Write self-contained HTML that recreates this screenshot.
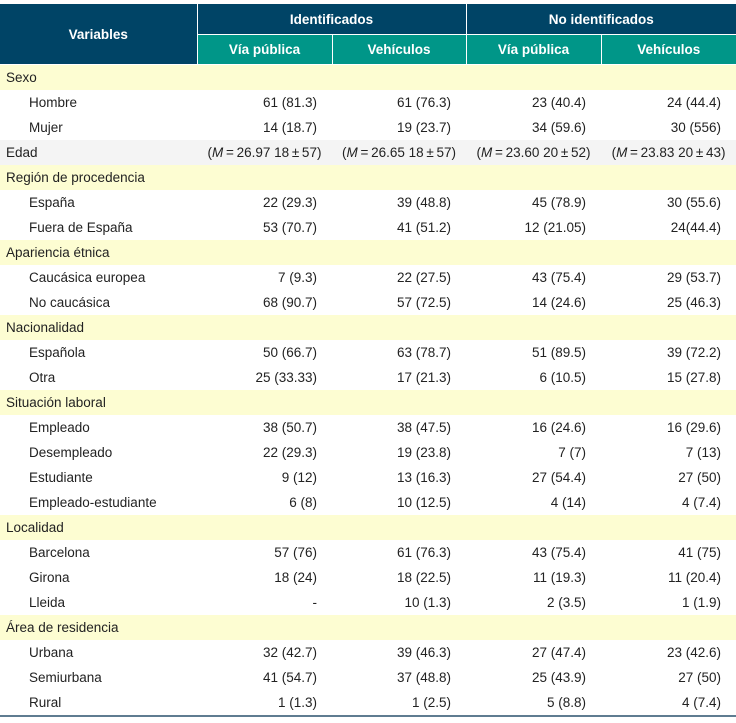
<!DOCTYPE html>
<html><head><meta charset="utf-8"><style>
body{margin:0;background:#fff;width:736px;height:723px;overflow:hidden;font-family:"Liberation Sans",sans-serif;font-size:13.5px;color:#222}
table{border-collapse:collapse;width:736px;table-layout:fixed;position:absolute;left:0;top:3px}
th{color:#fff;font-weight:bold;font-size:13.5px;padding:0;border:1px solid #fff}
th.n{background:#004466}
th.t{background:#009688}
td{height:25px;padding:0;line-height:25px;white-space:nowrap}
td.v{text-align:right;padding-right:15px}
td.c{text-align:center}
tr.y td{background:#fdfdd2}
tr.g td{background:#f4f4f4}
td.l{padding-left:6px}
td.s{padding-left:29px}
tr.last td{border-bottom:2px solid #5f7c91}
</style></head><body>
<table>
<colgroup><col style="width:197px"><col style="width:135px"><col style="width:134px"><col style="width:135px"><col style="width:135px"></colgroup>
<tr style="height:31px"><th class="n" rowspan="2" style="border-left:0">Variables</th><th class="n" colspan="2">Identificados</th><th class="n" colspan="2" style="border-right:0">No identificados</th></tr>
<tr style="height:30px"><th class="t">Vía pública</th><th class="t">Vehículos</th><th class="t">Vía pública</th><th class="t" style="border-right:0">Vehículos</th></tr>
<tr class="y"><td class="l" colspan="5">Sexo</td></tr>
<tr><td class="s">Hombre</td><td class="v">61 (81.3)</td><td class="v">61 (76.3)</td><td class="v">23 (40.4)</td><td class="v">24 (44.4)</td></tr>
<tr><td class="s">Mujer</td><td class="v">14 (18.7)</td><td class="v">19 (23.7)</td><td class="v">34 (59.6)</td><td class="v">30 (556)</td></tr>
<tr class="g"><td class="l">Edad</td><td class="c">(<i>M</i>&#8201;=&#8201;26.97 18&#8201;±&#8201;57)</td><td class="c">(<i>M</i>&#8201;=&#8201;26.65 18&#8201;±&#8201;57)</td><td class="c">(<i>M</i>&#8201;=&#8201;23.60 20&#8201;±&#8201;52)</td><td class="c">(<i>M</i>&#8201;=&#8201;23.83 20&#8201;±&#8201;43)</td></tr>
<tr class="y"><td class="l" colspan="5">Región de procedencia</td></tr>
<tr><td class="s">España</td><td class="v">22 (29.3)</td><td class="v">39 (48.8)</td><td class="v">45 (78.9)</td><td class="v">30 (55.6)</td></tr>
<tr><td class="s">Fuera de España</td><td class="v">53 (70.7)</td><td class="v">41 (51.2)</td><td class="v">12 (21.05)</td><td class="v">24(44.4)</td></tr>
<tr class="y"><td class="l" colspan="5">Apariencia étnica</td></tr>
<tr><td class="s">Caucásica europea</td><td class="v">7 (9.3)</td><td class="v">22 (27.5)</td><td class="v">43 (75.4)</td><td class="v">29 (53.7)</td></tr>
<tr><td class="s">No caucásica</td><td class="v">68 (90.7)</td><td class="v">57 (72.5)</td><td class="v">14 (24.6)</td><td class="v">25 (46.3)</td></tr>
<tr class="y"><td class="l" colspan="5">Nacionalidad</td></tr>
<tr><td class="s">Española</td><td class="v">50 (66.7)</td><td class="v">63 (78.7)</td><td class="v">51 (89.5)</td><td class="v">39 (72.2)</td></tr>
<tr><td class="s">Otra</td><td class="v">25 (33.33)</td><td class="v">17 (21.3)</td><td class="v">6 (10.5)</td><td class="v">15 (27.8)</td></tr>
<tr class="y"><td class="l" colspan="5">Situación laboral</td></tr>
<tr><td class="s">Empleado</td><td class="v">38 (50.7)</td><td class="v">38 (47.5)</td><td class="v">16 (24.6)</td><td class="v">16 (29.6)</td></tr>
<tr><td class="s">Desempleado</td><td class="v">22 (29.3)</td><td class="v">19 (23.8)</td><td class="v">7 (7)</td><td class="v">7 (13)</td></tr>
<tr><td class="s">Estudiante</td><td class="v">9 (12)</td><td class="v">13 (16.3)</td><td class="v">27 (54.4)</td><td class="v">27 (50)</td></tr>
<tr><td class="s">Empleado-estudiante</td><td class="v">6 (8)</td><td class="v">10 (12.5)</td><td class="v">4 (14)</td><td class="v">4 (7.4)</td></tr>
<tr class="y"><td class="l" colspan="5">Localidad</td></tr>
<tr><td class="s">Barcelona</td><td class="v">57 (76)</td><td class="v">61 (76.3)</td><td class="v">43 (75.4)</td><td class="v">41 (75)</td></tr>
<tr><td class="s">Girona</td><td class="v">18 (24)</td><td class="v">18 (22.5)</td><td class="v">11 (19.3)</td><td class="v">11 (20.4)</td></tr>
<tr><td class="s">Lleida</td><td class="v">-</td><td class="v">10 (1.3)</td><td class="v">2 (3.5)</td><td class="v">1 (1.9)</td></tr>
<tr class="y"><td class="l" colspan="5">Área de residencia</td></tr>
<tr><td class="s">Urbana</td><td class="v">32 (42.7)</td><td class="v">39 (46.3)</td><td class="v">27 (47.4)</td><td class="v">23 (42.6)</td></tr>
<tr><td class="s">Semiurbana</td><td class="v">41 (54.7)</td><td class="v">37 (48.8)</td><td class="v">25 (43.9)</td><td class="v">27 (50)</td></tr>
<tr class="last"><td class="s">Rural</td><td class="v">1 (1.3)</td><td class="v">1 (2.5)</td><td class="v">5 (8.8)</td><td class="v">4 (7.4)</td></tr>
</table>
</body></html>
